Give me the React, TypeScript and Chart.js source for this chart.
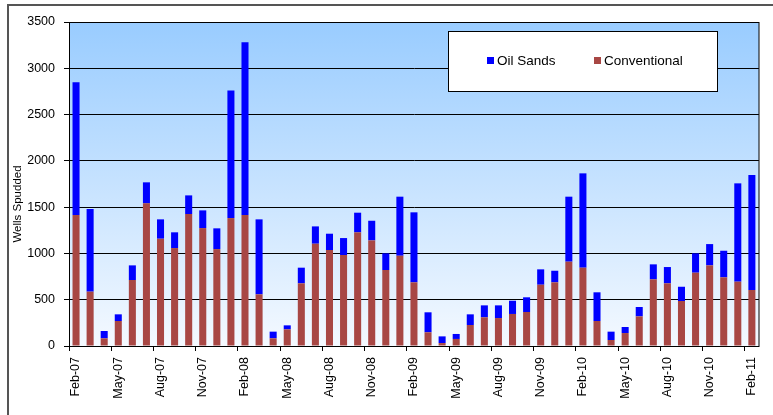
import React, { useEffect, useRef } from "react";
import { Chart, registerables } from "chart.js";

Chart.register(...registerables);

const categories = [
  "Feb-07","Mar-07","Apr-07","May-07","Jun-07","Jul-07","Aug-07","Sep-07","Oct-07","Nov-07","Dec-07","Jan-08",
  "Feb-08","Mar-08","Apr-08","May-08","Jun-08","Jul-08","Aug-08","Sep-08","Oct-08","Nov-08","Dec-08","Jan-09",
  "Feb-09","Mar-09","Apr-09","May-09","Jun-09","Jul-09","Aug-09","Sep-09","Oct-09","Nov-09","Dec-09","Jan-10",
  "Feb-10","Mar-10","Apr-10","May-10","Jun-10","Jul-10","Aug-10","Sep-10","Oct-10","Nov-10","Dec-10","Jan-11",
  "Feb-11",
];

const conventional = [
  1415, 587, 83, 270, 713, 1541, 1159, 1058, 1425, 1274, 1047, 1382,
  1415, 558, 83, 180, 677, 1105, 1037, 983, 1228, 1141, 821, 975,
  688, 148, 32, 76, 227, 310, 302, 346, 367, 662, 688, 911,
  846, 270, 65, 140, 320, 720, 677, 486, 792, 871, 742, 695,
  605,
];

const oilSands = [
  1433, 893, 79, 72, 158, 227, 209, 170, 202, 191, 224, 1379,
  1865, 810, 72, 43, 169, 187, 176, 183, 212, 212, 180, 638,
  756, 216, 72, 54, 115, 129, 137, 143, 159, 166, 125, 702,
  1019, 310, 90, 65, 101, 162, 176, 154, 209, 230, 287, 1062,
  1242,
];

const yTicks = [0, 500, 1000, 1500, 2000, 2500, 3000, 3500];

const FONT = '"Liberation Sans", Arial, sans-serif';
const BLUE = "#0000FF";
const RED = "#A84744";

const decorPlugin = {
  id: "decor",
  beforeDraw(chart: any) {
    const { ctx, chartArea } = chart;
    const { left, top, right, bottom } = chartArea;
    ctx.save();
    ctx.fillStyle = "#ffffff";
    ctx.fillRect(0, 0, chart.width, chart.height);
    const g = ctx.createLinearGradient(0, top, 0, bottom);
    g.addColorStop(0, "#99CCFF");
    g.addColorStop(1, "#F4F9FF");
    ctx.fillStyle = g;
    ctx.fillRect(left, top, right - left, bottom - top);
    // outer frame
    ctx.strokeStyle = "#555555";
    ctx.lineWidth = 2;
    ctx.beginPath();
    ctx.moveTo(8, chart.height);
    ctx.lineTo(8, 5);
    ctx.lineTo(chart.width, 5);
    ctx.stroke();
    ctx.restore();
  },
  afterDraw(chart: any) {
    const { ctx, chartArea } = chart;
    const { left, top, right, bottom } = chartArea;
    ctx.save();
    ctx.strokeStyle = "#000000";
    ctx.lineWidth = 1;
    ctx.strokeRect(Math.round(left) + 0.5, Math.round(top) + 0.5, Math.round(right - left) - 0.5, Math.round(bottom - top));
    // legend
    ctx.fillStyle = "#ffffff";
    ctx.fillRect(448, 31, 269, 60);
    ctx.strokeRect(448.5, 31.5, 269, 60);
    ctx.fillStyle = BLUE;
    ctx.fillRect(487, 57, 7, 7);
    ctx.fillStyle = RED;
    ctx.fillRect(594, 57, 7, 7);
    ctx.fillStyle = "#000000";
    ctx.font = `13.5px ${FONT}`;
    ctx.textBaseline = "middle";
    ctx.textAlign = "left";
    ctx.fillText("Oil Sands", 497, 61);
    ctx.fillText("Conventional", 604, 61);
    // y title
    ctx.translate(18, 204);
    ctx.rotate(-Math.PI / 2);
    ctx.font = `11.5px ${FONT}`;
    ctx.textAlign = "center";
    ctx.fillText("Wells Spudded", 0, 0);
    ctx.restore();
  },
};

export default function App() {
  const ref = useRef<HTMLCanvasElement | null>(null);
  useEffect(() => {
    if (!ref.current) return;
    const chart = new Chart(ref.current, {
      type: "bar",
      data: {
        labels: categories,
        datasets: [
          { label: "Conventional", data: conventional, backgroundColor: RED, borderWidth: 0, categoryPercentage: 1, barPercentage: 0.5 },
          { label: "Oil Sands", data: oilSands, backgroundColor: BLUE, borderWidth: 0, categoryPercentage: 1, barPercentage: 0.5 },
        ],
      },
      options: {
        responsive: false,
        animation: false,
        layout: { padding: { top: 22, right: 12, left: 0, bottom: 0 } },
        plugins: { legend: { display: false }, tooltip: { enabled: false } },
        scales: {
          x: {
            stacked: true,
            afterFit: (s: any) => { s.height = 69; },
            grid: {
              offset: true,
              drawOnChartArea: false,
              drawTicks: true,
              tickLength: 5,
              tickColor: (c: any) => (c.index % 3 === 0 ? "#000000" : "rgba(0,0,0,0)"),
            },
            border: { display: true, color: "#000000" },
            ticks: {
              autoSkip: false,
              maxRotation: 90,
              minRotation: 90,
              padding: 6,
              color: "#000000",
              font: { family: FONT, size: 12.5 },
              callback: (_v: any, i: number) => (i % 3 === 0 ? categories[i] : ""),
            },
          },
          y: {
            stacked: true,
            min: 0,
            max: 3500,
            afterFit: (s: any) => { s.width = 69; },
            afterBuildTicks: (s: any) => { s.ticks = yTicks.map((v) => ({ value: v })); },
            grid: { color: "#000000", tickLength: 5, tickColor: "#000000" },
            border: { display: true, color: "#000000" },
            ticks: {
              stepSize: 500,
              padding: 9,
              color: "#000000",
              font: { family: FONT, size: 12.5 },
              callback: (v: any) => String(v),
            },
          },
        },
      },
      plugins: [decorPlugin],
    } as any);
    return () => chart.destroy();
  }, []);
  return (
    <div style={{ position: "absolute", left: 0, top: 0, width: 773, height: 415, background: "#fff" }}>
      <canvas ref={ref} width={773} height={415} style={{ display: "block", width: 773, height: 415 }} />
    </div>
  );
}
